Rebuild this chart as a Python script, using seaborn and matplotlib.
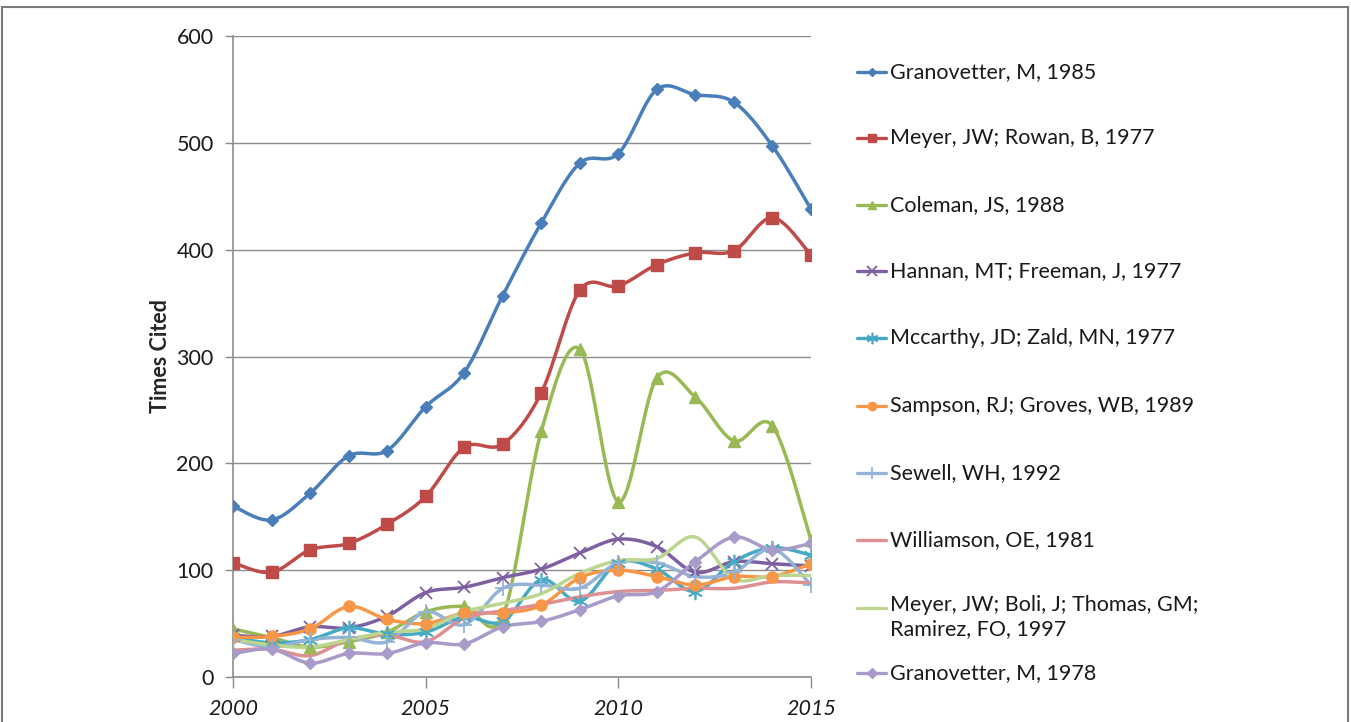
import numpy as np
import pandas as pd
import matplotlib
matplotlib.use("Agg")
import matplotlib.pyplot as plt
import seaborn as sns
from matplotlib.lines import Line2D
from matplotlib.patches import Rectangle

years = list(range(2000, 2016))

granovetter_1985 = [160, 147, 172, 207, 212, 253, 285, 357, 425, 481, 490, 550, 545, 538, 497, 438]
meyer_rowan = [107, 98, 119, 125, 143, 169, 215, 218, 266, 362, 366, 386, 397, 399, 430, 395]
coleman = [45, 37, 28, 33, 42, 61, 66, 57, 230, 307, 164, 280, 262, 221, 235, 128]
hannan_freeman = [39, 38, 47, 46, 57, 79, 84, 93, 101, 116, 129, 122, 98, 108, 106, 104]
mccarthy_zald = [37, 32, 35, 46, 40, 42, 56, 52, 91, 71, 107, 101, 80, 108, 121, 114]
sampson_groves = [37, 38, 45, 66, 54, 50, 60, 60, 67, 93, 100, 94, 86, 94, 94, 106]
sewell = [35, 28, 35, 37, 33, 61, 49, 83, 86, 83, 107, 107, 94, 98, 120, 86]
williamson = [25, 26, 20, 35, 39, 33, 55, 62, 68, 75, 80, 81, 83, 83, 89, 88]
meyer_boli = [35, 30, 28, 35, 42, 45, 61, 69, 78, 97, 109, 111, 131, 92, 95, 95]
granovetter_1978 = [22, 26, 13, 22, 22, 32, 31, 47, 52, 63, 76, 80, 108, 131, 119, 125]

labels = [
    "Granovetter, M, 1985",
    "Meyer, JW; Rowan, B, 1977",
    "Coleman, JS, 1988",
    "Hannan, MT; Freeman, J, 1977",
    "Mccarthy, JD; Zald, MN, 1977",
    "Sampson, RJ; Groves, WB, 1989",
    "Sewell, WH, 1992",
    "Williamson, OE, 1981",
    "Meyer, JW; Boli, J; Thomas, GM;\nRamirez, FO, 1997",
    "Granovetter, M, 1978",
]
series = [granovetter_1985, meyer_rowan, coleman, hannan_freeman, mccarthy_zald,
          sampson_groves, sewell, williamson, meyer_boli, granovetter_1978]

colors = ["#4A7EBB", "#BE4B48", "#98B954", "#7D60A0", "#46AAC5",
          "#F79646", "#95B3D7", "#DE8F92", "#BDD68F", "#A99BC9"]
# marker, size, edge width
markers = [("D", 6, 1), ("s", 8.5, 1), ("^", 8, 1), ("x", 9, 1.3), ((6, 2, 0), 11, 1.2),
           ("o", 8, 1), ("+", 11, 1.3), (None, 0, 0), (None, 0, 0), ("D", 6.5, 1)]


def smooth(x, y, n=24, xscale=36.0):
    # Excel-like smoothed line: Bezier through points, Catmull-Rom control points
    pts = np.column_stack([np.asarray(x, float) * xscale, np.asarray(y, float)])
    P = np.vstack([pts[0], pts, pts[-1]])
    t = np.linspace(0, 1, n, endpoint=False)[:, None]
    out = []
    for i in range(1, len(P) - 2):
        p0, p1, p2, p3 = P[i - 1], P[i], P[i + 1], P[i + 2]
        c1 = p1 + (p2 - p0) / 6
        c2 = p2 - (p3 - p1) / 6
        out.append((1 - t) ** 3 * p1 + 3 * (1 - t) ** 2 * t * c1
                   + 3 * (1 - t) * t ** 2 * c2 + t ** 3 * p2)
    out.append(pts[-1:])
    out = np.vstack(out)
    return out[:, 0] / xscale, out[:, 1]


sns.set_style("white")
plt.rcParams["font.family"] = ["Lato", "DejaVu Sans"]

frames = []
for lab, vals in zip(labels, series):
    sx, sy = smooth(years, vals)
    frames.append(pd.DataFrame({"year": sx, "cited": sy, "series": lab}))
df = pd.concat(frames, ignore_index=True)

fig = plt.figure(figsize=(13.51, 7.22), dpi=100)
ax = fig.add_axes([233 / 1351, 1 - 677 / 722, (811 - 233) / 1351, (677 - 36) / 722])

sns.lineplot(data=df, x="year", y="cited", hue="series", palette=dict(zip(labels, colors)),
             sort=False, estimator=None, linewidth=2.5, legend=False, ax=ax, zorder=3)

for vals, c, (m, ms, mew) in zip(series, colors, markers):
    if m is None:
        continue
    ax.plot(years, vals, linestyle="none", marker=m, markersize=ms, color=c,
            markeredgecolor=c, markeredgewidth=mew, zorder=4)

ax.set_xlim(2000, 2015)
ax.set_ylim(0, 600)
ax.set_yticks(range(0, 601, 100))
ax.set_xticks([2000, 2005, 2010, 2015])
ax.yaxis.grid(True, color="#8c8c8c", linewidth=1.0)
ax.set_axisbelow(True)
for s in ["top", "right"]:
    ax.spines[s].set_visible(False)
for s in ["left", "bottom"]:
    ax.spines[s].set_color("#8c8c8c")
    ax.spines[s].set_linewidth(1.2)
ax.tick_params(axis="y", direction="out", length=6, width=1, color="#8c8c8c",
               labelsize=15.5, pad=8, labelcolor="#1a1a1a", left=True)
ax.tick_params(axis="x", direction="out", length=8, width=1, color="#8c8c8c",
               labelsize=15.5, pad=8, labelcolor="#1a1a1a", bottom=True)
for lbl in ax.get_xticklabels():
    lbl.set_fontstyle("italic")
ax.set_xlabel("")
ax.set_ylabel("Times Cited", fontsize=15.5, fontweight="bold", labelpad=4)

# legend drawn at fixed positions, like the original Excel layout
legend_y = [72, 138, 205, 271, 338, 406, 473, 540, 608, 673]
for lab, c, (m, ms, mew), ypx in zip(labels, colors, markers, legend_y):
    yf = 1 - ypx / 722
    fig.add_artist(Line2D([857 / 1351, 886 / 1351], [yf, yf], color=c, linewidth=2.4,
                          transform=fig.transFigure))
    if m is not None:
        fig.add_artist(Line2D([871.5 / 1351], [yf], marker=m, markersize=ms * 0.75, color=c,
                              markeredgecolor=c, markeredgewidth=mew, linestyle="none",
                              transform=fig.transFigure))
    if "\n" in lab:
        fig.text(890 / 1351, 1 - (ypx - 13) / 722, lab, fontsize=15.5, va="top", ha="left",
                 linespacing=1.25, color="#1a1a1a")
    else:
        fig.text(890 / 1351, yf, lab, fontsize=15.5, va="center", ha="left", color="#1a1a1a")

fig.add_artist(Rectangle((2 / 1351, -0.05), (1348 - 2) / 1351, 1 - 7 / 722 + 0.05,
                         transform=fig.transFigure, fill=False, edgecolor="#7a7a7a",
                         linewidth=1.5))

fig.savefig("out.png", dpi=100, facecolor="white")
